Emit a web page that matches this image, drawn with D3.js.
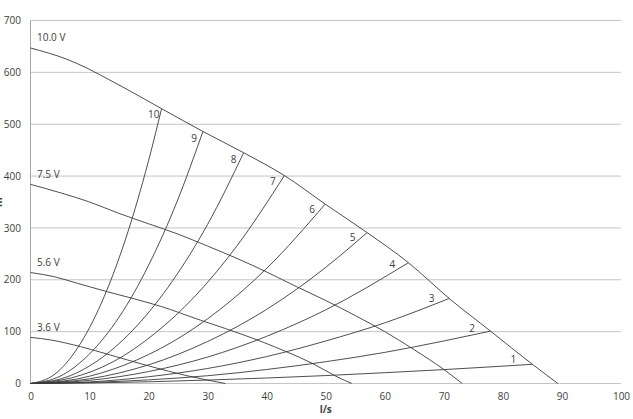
<!DOCTYPE html>
<html>
<head>
<meta charset="utf-8">
<script src="https://cdn.jsdelivr.net/npm/d3@7"></script>
<style>
  body { margin: 0; background: #fff; }
  text { font-family: "Open Sans", sans-serif; fill: #404040; }
</style>
</head>
<body>
<div id="chart"></div>
<script>
// pump curves (head vs flow) at each voltage
const voltages = ["10.0 V", "7.5 V", "5.6 V", "3.6 V"];
const pump100 = [[0, 647], [6.2, 625], [9.6, 608], [11.8, 595], [17.5, 560], [22.2, 530], [29.2, 486], [36.1, 445], [43, 401], [49.9, 346], [57, 291], [64, 233], [70.9, 164], [77.9, 101], [85, 37], [89.3, 0]];
const pump75 = [[0, 384], [5, 368], [10, 350], [15, 328], [20, 308], [25, 288], [30, 265], [35, 241], [40, 215], [45, 187], [50, 160], [55, 131], [60, 100], [65, 65], [70, 27], [73.1, 0]];
const pump56 = [[0, 214], [4, 206], [8, 193], [13, 177], [17, 165], [22, 149], [28.8, 122], [33, 106], [38.4, 84], [43.4, 61], [47.7, 39], [51.9, 13], [54.4, 0]];
const pump36 = [[0, 89], [3.4, 84], [8.5, 71], [13.5, 55], [20.3, 33], [26.5, 15], [33, 0]];
const pumpCurves = [pump100, pump75, pump56, pump36];

// system curves 1..10
const sysNames = ["1", "2", "3", "4", "5", "6", "7", "8", "9", "10"];
const sys1 = [[0, 0], [10, 1], [20, 3.3], [30, 6.6], [40, 10.6], [50, 15.3], [60, 20.8], [70, 26.8], [85, 37]];
const sys2 = [[0, 0], [10, 2], [20, 7], [30, 15], [40, 27], [50, 42], [60, 60], [70, 82], [77.9, 101]];
const sys3 = [[0, 0], [10, 3], [20, 13], [30, 29], [40, 52], [50, 82], [60, 117], [70.9, 164]];
const sys4 = [[0, 0], [10, 6], [20, 23], [30, 51], [40, 91], [50, 142], [64, 233]];
const sys5 = [[0, 0], [10, 9], [20, 36], [30, 81], [40, 143], [50, 224], [57, 291]];
const sys6 = [[0, 0], [8, 9], [16, 36], [24, 80], [32, 142], [40, 222], [49.9, 346]];
const sys7 = [[0, 0], [7, 11], [14, 42], [21, 96], [28, 170], [35, 266], [43, 401]];
const sys8 = [[0, 0], [6, 12], [12, 49], [18, 111], [24, 197], [30, 307], [36.1, 445]];
const sys9 = [[0, 0], [5, 14], [10, 57], [15, 128], [20, 228], [25, 356], [29.2, 486]];
const sys10 = [[0, 0], [4, 17], [8, 69], [12, 155], [16, 275], [20, 430], [22.2, 530]];
const sysCurves = [sys1, sys2, sys3, sys4, sys5, sys6, sys7, sys8, sys9, sys10];

const xTicks = [0, 10, 20, 30, 40, 50, 60, 70, 80, 90, 100];
const yTicks = [0, 100, 200, 300, 400, 500, 600, 700];
const xTitle = "l/s";
const yTitle = "m";

const width = 633;
const height = 419;

const svg = d3.select("div#chart")
  .append("svg")
  .attr("width", width)
  .attr("height", height);

const x = d3.scaleLinear().domain([0, 100]).range([30.5, 621]);
const y = d3.scaleLinear().domain([0, 700]).range([383.5, 20.5]);

// grid
svg.append("g")
  .selectAll("line")
  .data(yTicks)
  .join("line")
  .attr("x1", x(0)).attr("x2", x(100))
  .attr("y1", d => y(d)).attr("y2", d => y(d))
  .attr("stroke", "#c4c4c4")
  .attr("stroke-width", 1);

svg.append("line")
  .attr("x1", x(0)).attr("x2", x(0))
  .attr("y1", y(0)).attr("y2", y(700))
  .attr("stroke", "#a6a6a6");

// axes labels
const yAxis = d3.axisLeft(y).tickValues(yTicks).tickSize(0).tickPadding(9.5);
const yAxisGroup = svg.append("g").attr("transform", `translate(${x(0)},0)`).call(yAxis);
yAxisGroup.select(".domain").remove();
yAxisGroup.selectAll("text").style("font-size", "10px").attr("fill", "#404040");

const xAxis = d3.axisBottom(x).tickValues(xTicks).tickSize(0).tickPadding(9);
const xAxisGroup = svg.append("g").attr("transform", `translate(0,${y(0)})`).call(xAxis);
xAxisGroup.select(".domain").remove();
xAxisGroup.selectAll("text").style("font-size", "10px").attr("fill", "#404040");

svg.append("text")
  .attr("x", x(50)).attr("y", 413)
  .attr("text-anchor", "middle")
  .style("font-size", "10px").style("font-weight", "bold")
  .text(xTitle);

// y title sits at the very edge, mostly outside, as in the original
svg.append("text")
  .attr("transform", `translate(2,${(y(0) + y(700)) / 2}) rotate(-90)`)
  .attr("text-anchor", "middle")
  .style("font-size", "10px").style("font-weight", "bold")
  .text(yTitle);

const line = d3.line()
  .x(d => x(d[0]))
  .y(d => y(d[1]))
  .curve(d3.curveMonotoneX);

// system curves
svg.append("g")
  .selectAll("path")
  .data(sysCurves)
  .join("path")
  .attr("d", line)
  .attr("fill", "none")
  .attr("stroke", "#3a3a3a")
  .attr("stroke-width", 0.9);

// pump curves
svg.append("g")
  .selectAll("path")
  .data(pumpCurves)
  .join("path")
  .attr("d", line)
  .attr("fill", "none")
  .attr("stroke", "#3a3a3a")
  .attr("stroke-width", 0.9);

// voltage labels
svg.append("g")
  .selectAll("text")
  .data(pumpCurves)
  .join("text")
  .attr("x", 37)
  .attr("y", d => y(d[0][1]) - 6.5)
  .style("font-size", "10px")
  .text((d, i) => voltages[i]);

// system curve numbers, placed just left of each curve's end
svg.append("g")
  .selectAll("text")
  .data(sysCurves)
  .join("text")
  .each(function (d, i) {
    const e = d[d.length - 1];
    const p = d[d.length - 2];
    const ex = x(e[0]), ey = y(e[1]);
    let bx = x(p[0]) - ex, by = y(p[1]) - ey;
    const len = Math.hypot(bx, by);
    bx /= len; by /= len;
    const back = 8 + (9 - i) * 1.2;
    const perp = 6;
    d3.select(this)
      .attr("x", ex + bx * back - by * perp)
      .attr("y", ey + by * back + bx * perp)
      .attr("dy", "0.35em");
  })
  .attr("text-anchor", "middle")
  .style("font-size", "10px")
  .text((d, i) => sysNames[i]);
</script>
</body>
</html>
